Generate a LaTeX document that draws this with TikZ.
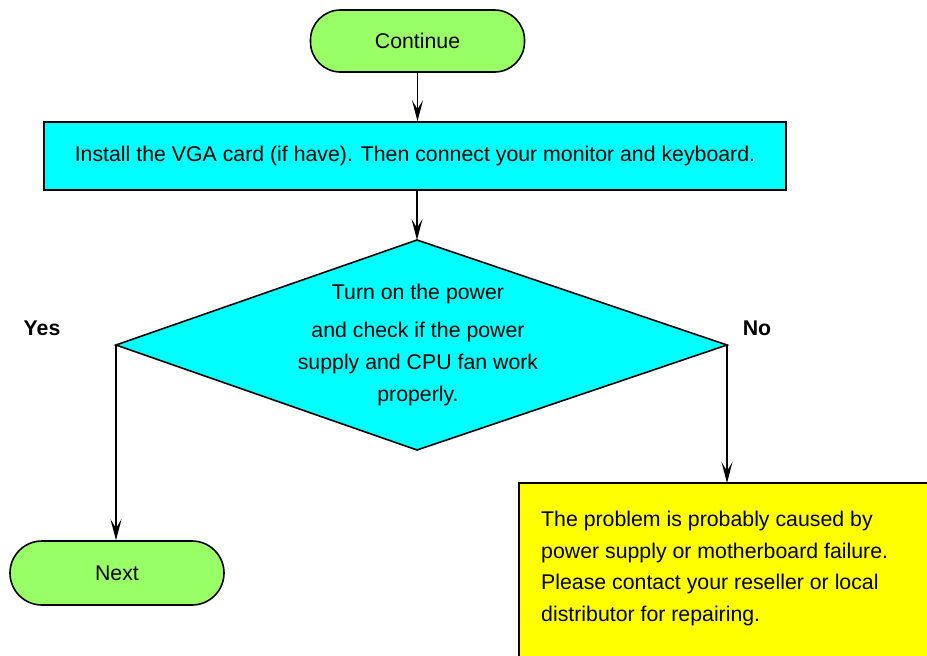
\documentclass[tikz,border=0pt]{standalone}
\usepackage{fontspec}
\setmainfont{Liberation Sans}
\usetikzlibrary{arrows.meta}
\definecolor{pillgreen}{RGB}{153,255,102}
\definecolor{boxcyan}{RGB}{0,255,255}
\definecolor{boxyellow}{RGB}{255,255,0}
\tikzset{
  every node/.style={font=\fontsize{21.3}{31.8}\selectfont},
  pill/.style={draw, line width=1.6pt, fill=pillgreen, rounded corners=30pt, minimum width=214pt, minimum height=62pt, inner sep=0pt},
  procbox/.style={draw, line width=1.6pt, fill=boxcyan, minimum width=742pt, minimum height=68pt, inner sep=0pt},
  decshape/.style={draw, line width=1.6pt, fill=boxcyan, line join=miter},
  failbox/.style={fill=boxyellow, inner sep=0pt},
  edgeline/.style={line width=1.6pt},
  conn/.style={line width=1.6pt, -{Stealth[length=21pt,width=11pt,inset=9pt]}},
  lbl/.style={font=\fontsize{21.3}{24}\selectfont\bfseries},
  plain/.style={inner sep=0pt, align=center}
}
\begin{document}
\begin{tikzpicture}[x=1pt,y=-1pt]
\useasboundingbox (0,0) rectangle (927,656);
\fill[white] (-10,-10) rectangle (940,670);

\node[pill] (cont) at (417.5,41) {Continue};
\node[procbox] (vga) at (415,156) {Install the VGA card (if have). Then connect your monitor and keyboard.};

\coordinate (dtop) at (417,240);
\coordinate (dright) at (727,345);
\coordinate (dbottom) at (417,450);
\coordinate (dleft) at (116,345);
\draw[decshape] (dtop) -- (dright) -- (dbottom) -- (dleft) -- cycle;
\node[plain] (check) at (418,345) {Turn on the power\\[6pt] and check if the power\\ supply and CPU fan work\\ properly.};

\node[lbl] (yes) at (42,328) {Yes};
\node[lbl] (no) at (757,328) {No};

\node[pill, minimum height=64pt, rounded corners=32pt] (next) at (117,573) {Next};

\node[failbox, anchor=north west, minimum width=430pt, minimum height=195pt] (fail) at (519,483) {};
\draw[edgeline] (fail.north east) -- (fail.north west) -- (fail.south west);
\node[plain, align=left, anchor=west] (failtxt) at (541,568.5) {The problem is probably caused by\\ power supply or motherboard failure.\\ Please contact your reseller or local\\ distributor for repairing.};

\draw[conn] (cont.south) -- (vga.north -| cont.south);
\draw[conn] (vga.south -| dtop) -- (dtop);
\draw[conn] (dleft) -- (next.north -| dleft);
\draw[conn] (dright) -- (fail.north -| dright);
\end{tikzpicture}
\end{document}
